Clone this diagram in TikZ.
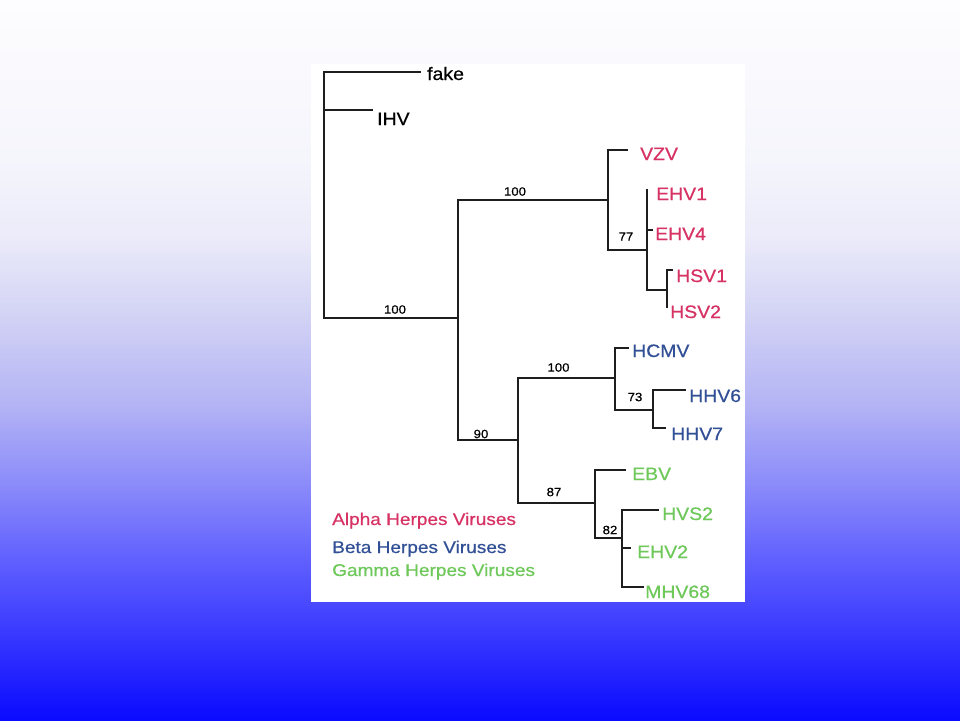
\documentclass[tikz,border=0pt]{standalone}
\usepackage{fontspec}
\setmainfont{Liberation Sans}
\newfontfamily\tipfnt[FakeStretch=1.08,FakeBold=0.6]{Liberation Sans}
\newfontfamily\legfnt[FakeStretch=1.12,FakeBold=0.5]{Liberation Sans}
\newfontfamily\numfnt[FakeStretch=1.1,FakeBold=0.6]{Liberation Sans}
\definecolor{alphac}{RGB}{215,50,100}
\definecolor{betac}{RGB}{50,80,150}
\definecolor{gammac}{RGB}{110,200,90}
\definecolor{treec}{RGB}{30,30,30}
\pgfdeclareverticalshading{bgshade}{100bp}{
  color(0bp)=(rgb,255:red,10;green,10;blue,255);
  color(25bp)=(rgb,255:red,10;green,10;blue,255);
  color(36bp)=(rgb,255:red,95;green,95;blue,255);
  color(41.5bp)=(rgb,255:red,140;green,140;blue,250);
  color(47bp)=(rgb,255:red,180;green,180;blue,245);
  color(53bp)=(rgb,255:red,210;green,210;blue,245);
  color(58.5bp)=(rgb,255:red,235;green,235;blue,250);
  color(64bp)=(rgb,255:red,245;green,245;blue,252);
  color(75bp)=(rgb,255:red,253;green,253;blue,255);
  color(100bp)=(rgb,255:red,253;green,253;blue,255)}
\begin{document}
\begin{tikzpicture}[x=1pt,y=-1pt,
  branch/.style={draw=treec,line width=1.8pt,line cap=rect},
  tiplab/.style={anchor=base west,inner sep=0pt,font=\tipfnt\fontsize{18}{18}\selectfont},
  leglab/.style={anchor=base west,inner sep=0pt,font=\legfnt\fontsize{17}{17}\selectfont},
  numlab/.style={inner sep=0pt,font=\numfnt\fontsize{12}{12}\selectfont}]
\useasboundingbox (0,0) rectangle (960,720);
\shade[shading=bgshade] (0,0) rectangle (960,720);
\fill[white] (311,64) rectangle (745,602);
% internal nodes
\coordinate (R) at (324,72);
\coordinate (A) at (458,318);
\coordinate (B) at (608,200);
\coordinate (C) at (647,250);
\coordinate (D) at (667,290);
\coordinate (E) at (518,440);
\coordinate (F) at (615,378);
\coordinate (G) at (653,410);
\coordinate (H) at (595,503);
\coordinate (I) at (622,538);
% tip ends
\coordinate (fakeE) at (420,72);
\coordinate (ihvE) at (372,110);
\coordinate (vzvE) at (627,150);
\coordinate (ehv1E) at (647,190);
\coordinate (ehv4E) at (652,230);
\coordinate (hsv1E) at (672,270);
\coordinate (hsv2E) at (667,307);
\coordinate (hcmvE) at (628,348);
\coordinate (hhv6E) at (685,390);
\coordinate (hhv7E) at (665,428);
\coordinate (ebvE) at (625,470);
\coordinate (hvs2E) at (658,510);
\coordinate (ehv2E) at (630,548);
\coordinate (mhvE) at (643,587);
% branches
\draw[branch] (R) |- (fakeE);
\draw[branch] (R) |- (ihvE);
\draw[branch] (R) |- (A);
\draw[branch] (A) |- (B);
\draw[branch] (A) |- (E);
\draw[branch] (B) |- (vzvE);
\draw[branch] (B) |- (C);
\draw[branch] (C) |- (ehv1E);
\draw[branch] (C) |- (ehv4E);
\draw[branch] (C) |- (D);
\draw[branch] (D) |- (hsv1E);
\draw[branch] (D) |- (hsv2E);
\draw[branch] (E) |- (F);
\draw[branch] (E) |- (H);
\draw[branch] (F) |- (hcmvE);
\draw[branch] (F) |- (G);
\draw[branch] (G) |- (hhv6E);
\draw[branch] (G) |- (hhv7E);
\draw[branch] (H) |- (ebvE);
\draw[branch] (H) |- (I);
\draw[branch] (I) |- (hvs2E);
\draw[branch] (I) |- (ehv2E);
\draw[branch] (I) |- (mhvE);
% tip labels
\node[tiplab,text=black] (fake) at (427,80) {fake};
\node[tiplab,text=black] (ihv) at (377,125) {IHV};
\node[tiplab,text=alphac] (vzv) at (640,160) {VZV};
\node[tiplab,text=alphac] (ehv1) at (656,200) {EHV1};
\node[tiplab,text=alphac] (ehv4) at (655,240) {EHV4};
\node[tiplab,text=alphac] (hsv1) at (676,282) {HSV1};
\node[tiplab,text=alphac] (hsv2) at (670,318) {HSV2};
\node[tiplab,text=betac] (hcmv) at (632,357) {HCMV};
\node[tiplab,text=betac] (hhv6) at (689,402) {HHV6};
\node[tiplab,text=betac] (hhv7) at (671,440) {HHV7};
\node[tiplab,text=gammac] (ebv) at (632,480) {EBV};
\node[tiplab,text=gammac] (hvs2) at (662,520) {HVS2};
\node[tiplab,text=gammac] (ehv2) at (637,558) {EHV2};
\node[tiplab,text=gammac] (mhv68) at (645,598) {MHV68};
% support values
\node[numlab] (s1) at (395,309.5) {100};
\node[numlab] (s2) at (515,191.5) {100};
\node[numlab] (s3) at (626,236.5) {77};
\node[numlab] (s4) at (558.5,367.5) {100};
\node[numlab] (s5) at (635,397) {73};
\node[numlab] (s6) at (481,434) {90};
\node[numlab] (s7) at (554,492) {87};
\node[numlab] (s8) at (610,530) {82};
% legend
\node[leglab,text=alphac] (lega) at (332,525) {Alpha Herpes Viruses};
\node[leglab,text=betac] (legb) at (332,553) {Beta Herpes Viruses};
\node[leglab,text=gammac] (legc) at (332,576) {Gamma Herpes Viruses};
\end{tikzpicture}
\end{document}
